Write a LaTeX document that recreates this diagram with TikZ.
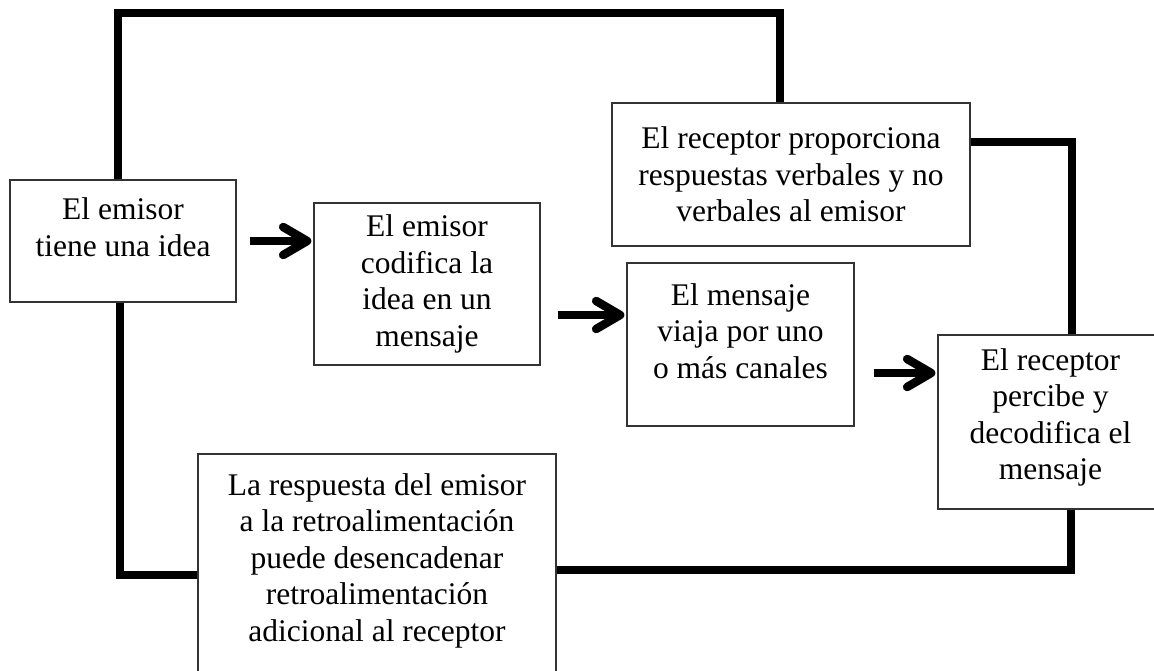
\documentclass[tikz,border=0pt]{standalone}
\usepackage{fontspec}
\setmainfont{Liberation Serif}
\usetikzlibrary{arrows.meta}
\newcommand{\boxpad}[1]{\rule[-#1]{0pt}{#1}}

\begin{document}
\begin{tikzpicture}[x=1pt,y=-1pt,>={Straight Barb[length=24pt,width=28pt,round]},
                box/.style={rectangle,draw=black!80,line width=1.2pt,fill=white,align=center,
                            inner sep=0pt,font=\fontsize{31.5}{36.5}\selectfont},
                feedback/.style={line width=7.5pt},
                flow/.style={->,line width=8.5pt,shorten >=2pt}]
                \useasboundingbox (0,0) rectangle (1154,671);
                \node[box,minimum width=226pt,minimum height=122pt] (emisor) at (123,241)
                    {El emisor\\tiene una idea\boxpad{28pt}};
                \node[box,minimum width=226pt,minimum height=162pt] (codifica) at (427,284)
                    {El emisor\\codifica la\\idea en un\\mensaje};
                \node[box,minimum width=227pt,minimum height=163pt] (canal) at (740.5,344.5)
                    {El mensaje\\viaja por uno\\o más canales\boxpad{27pt}};
                \node[box,minimum width=358pt,minimum height=143pt] (retro) at (791,174.5)
                    {El receptor proporciona\\respuestas verbales y no\\verbales al emisor};
                \node[box,minimum width=225pt,minimum height=174pt] (receptor) at (1050.5,422)
                    {El receptor\\percibe y\\decodifica el\\mensaje\boxpad{16pt}};
                \node[box,minimum width=358pt,minimum height=246pt] (respuesta) at (377,577)
                    {La respuesta del emisor\\a la retroalimentación\\puede desencadenar\\retroalimentación\\adicional al receptor\boxpad{39pt}};

                % corners of the feedback loop
                \coordinate (tl) at (118,13);
                \coordinate (tr) at (780,13);
                \coordinate (rt) at (1072,142);
                \coordinate (rb) at (1071,570);
                \coordinate (lb) at (120,575);
                \coordinate (m2) at (0,315);
                \coordinate (m3) at (0,373);

                \draw[feedback] (emisor.north -| tl) -- (tl) -- (tr) -- (retro.north -| tr);
                \draw[feedback] (retro.east |- rt) -- (rt) -- (receptor.north -| rt);
                \draw[feedback] (receptor.south -| rb) -- (rb) -- (respuesta.east |- rb);
                \draw[feedback] (respuesta.west |- lb) -- (lb) -- (emisor.south -| lb);

                \draw[flow,shorten <=13pt] (emisor) -- (codifica.west |- emisor);
                \draw[flow,shorten <=17pt] (codifica.east |- m2) -- (canal.west |- m2);
                \draw[flow,shorten <=19pt] (canal.east |- m3) -- (receptor.west |- m3);
\end{tikzpicture}
\end{document}
